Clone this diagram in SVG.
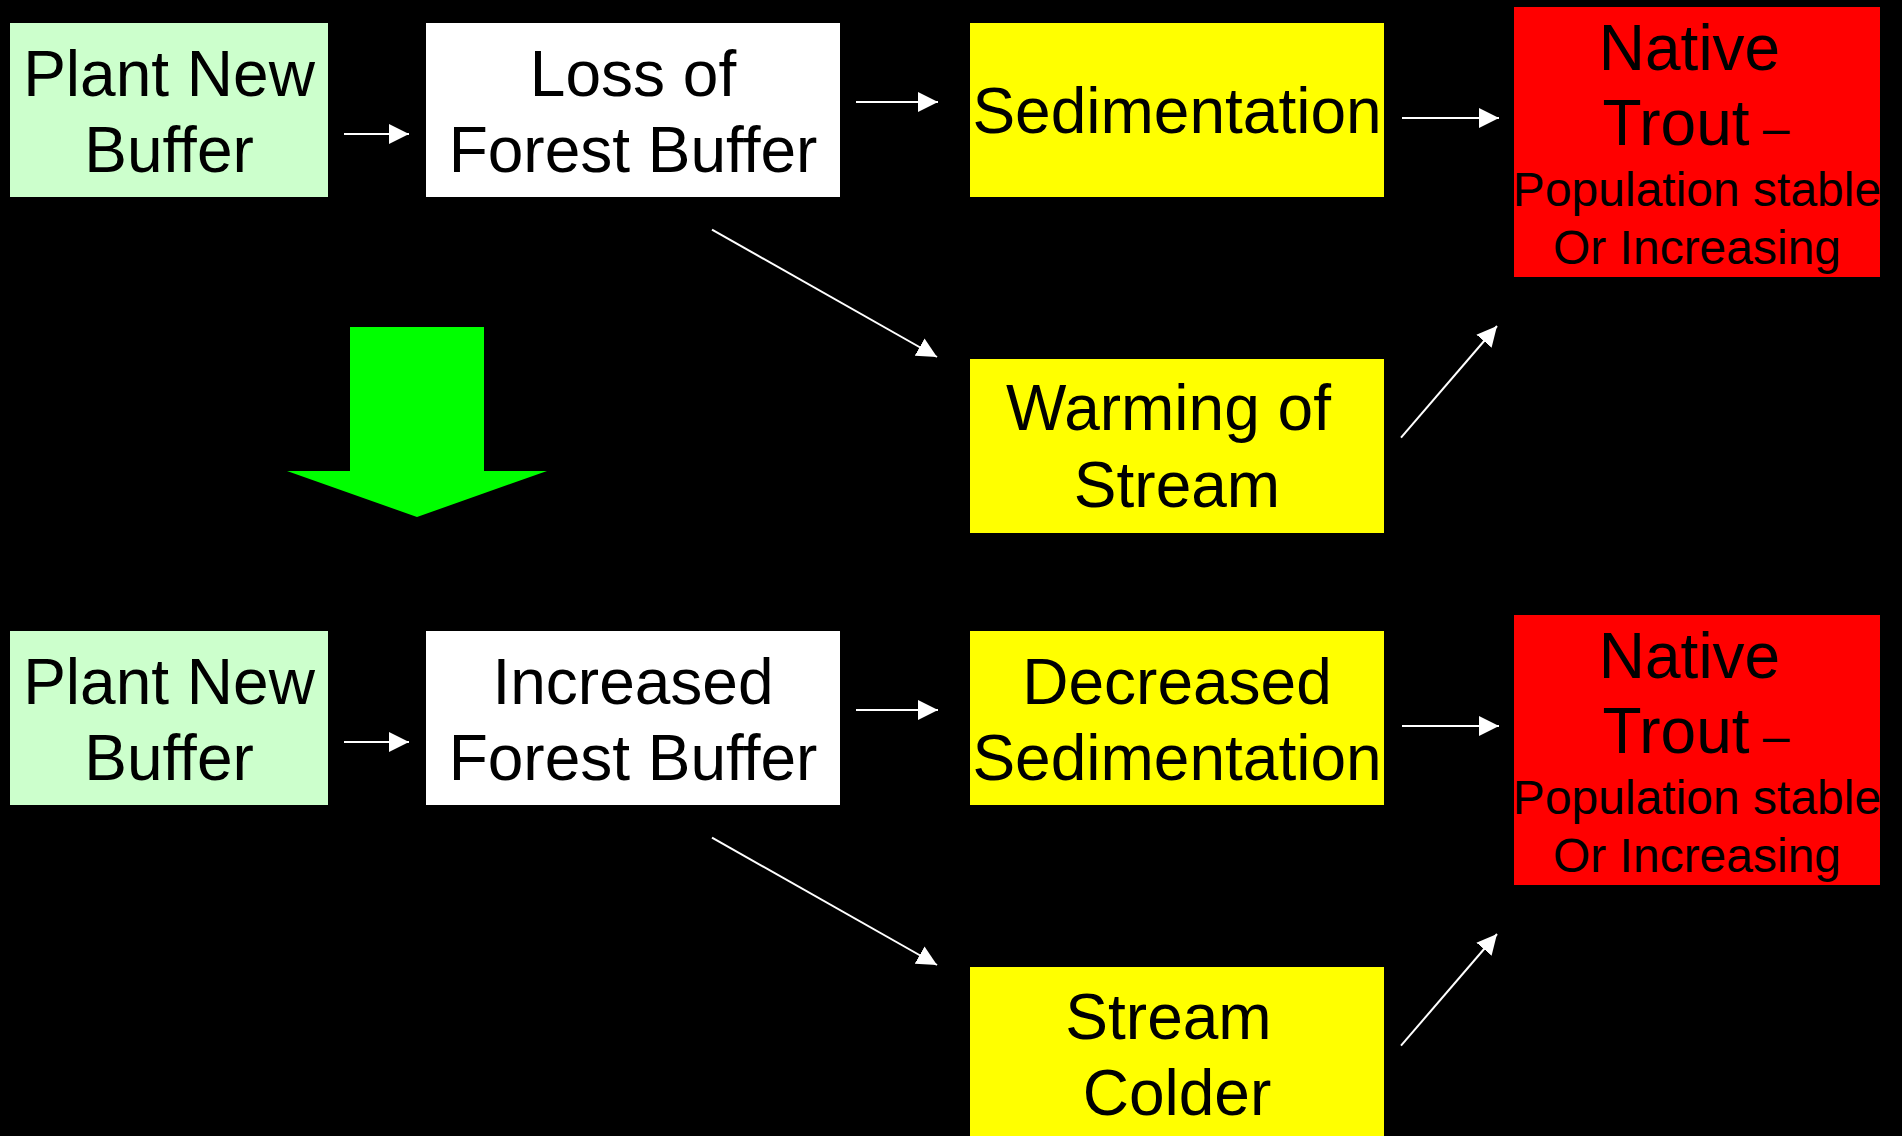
<svg xmlns="http://www.w3.org/2000/svg" width="1902" height="1136" viewBox="0 0 1902 1136">
<style>
.t{font-family:"Liberation Sans",Arial,sans-serif;font-size:64px;fill:#000;text-anchor:middle}
.s{font-size:48px}
.c{stroke:#fff;stroke-width:2;fill:none;marker-end:url(#ah)}
</style>
<defs>
<marker id="ah" markerUnits="userSpaceOnUse" markerWidth="20" markerHeight="20" refX="20" refY="10" orient="auto" viewBox="0 0 20 20">
<path d="M0,0 L20,10 L0,20 z" fill="#fff"/>
</marker>
</defs>
<rect x="0" y="0" width="1902" height="1136" fill="#000"/>
<g id="plant1"><rect x="10" y="23" width="318" height="174" fill="#CCFFCC"/><text class="t" x="169" y="96">Plant New</text><text class="t" x="169" y="172">Buffer</text></g>
<g id="loss"><rect x="426" y="23" width="414" height="174" fill="#fff"/><text class="t" x="633" y="96">Loss of</text><text class="t" x="633" y="172">Forest Buffer</text></g>
<g id="sed"><rect x="970" y="23" width="414" height="174" fill="#ff0"/><text class="t" x="1177" y="133">Sedimentation</text></g>
<g id="trout1"><rect x="1514" y="7" width="366" height="270" fill="#f00"/><text class="t" x="1689.5" y="70">Native</text><text class="t" x="1602.5" y="145" style="text-anchor:start" xml:space="preserve">Trout<tspan class="s"> –</tspan></text><text class="t s" x="1697" y="206">Population stable</text><text class="t s" x="1697" y="264">Or Increasing</text></g>
<g id="warm"><rect x="970" y="359" width="414" height="174" fill="#ff0"/><text class="t" x="1168.5" y="430">Warming of</text><text class="t" x="1177" y="507">Stream</text></g>
<g id="bigarrow"><polygon points="350,327 484,327 484,471 547,471 417,517 287,471 350,471" fill="#0f0"/></g>
<g id="plant2"><rect x="10" y="631" width="318" height="174" fill="#CCFFCC"/><text class="t" x="169" y="704">Plant New</text><text class="t" x="169" y="780">Buffer</text></g>
<g id="incr"><rect x="426" y="631" width="414" height="174" fill="#fff"/><text class="t" x="633" y="704">Increased</text><text class="t" x="633" y="780">Forest Buffer</text></g>
<g id="dsed"><rect x="970" y="631" width="414" height="174" fill="#ff0"/><text class="t" x="1177" y="704">Decreased</text><text class="t" x="1177" y="780">Sedimentation</text></g>
<g id="trout2"><rect x="1514" y="615" width="366" height="270" fill="#f00"/><text class="t" x="1689.5" y="678">Native</text><text class="t" x="1602.5" y="753" style="text-anchor:start" xml:space="preserve">Trout<tspan class="s"> –</tspan></text><text class="t s" x="1697" y="814">Population stable</text><text class="t s" x="1697" y="872">Or Increasing</text></g>
<g id="colder"><rect x="970" y="967" width="414" height="180" fill="#ff0"/><text class="t" x="1168.5" y="1039">Stream</text><text class="t" x="1177" y="1115">Colder</text></g>
<g id="connectors">
<line class="c" x1="344" y1="134" x2="409" y2="134"/>
<line class="c" x1="856" y1="102" x2="938" y2="102"/>
<line class="c" x1="1402" y1="118" x2="1499" y2="118"/>
<line class="c" x1="712" y1="229.6" x2="937" y2="357"/>
<line class="c" x1="1401" y1="437.7" x2="1497" y2="326"/>
<line class="c" x1="344" y1="742" x2="409" y2="742"/>
<line class="c" x1="856" y1="710" x2="938" y2="710"/>
<line class="c" x1="1402" y1="726" x2="1499" y2="726"/>
<line class="c" x1="712" y1="837.6" x2="937" y2="965"/>
<line class="c" x1="1401" y1="1045.7" x2="1497" y2="934"/>
</g>
</svg>
